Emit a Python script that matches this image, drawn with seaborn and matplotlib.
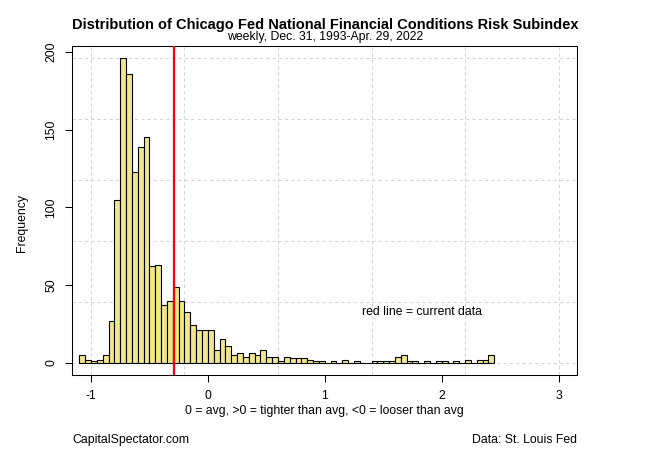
import numpy as np
import pandas as pd
import matplotlib
matplotlib.use("Agg")
import matplotlib.pyplot as plt
import seaborn as sns

# ------------------------------
# DATA
# ------------------------------

bin_start = -1.1
bin_width = 0.05
counts = [5, 2, 1, 2, 5, 27, 105, 196, 186, 123,
          139, 145, 62, 63, 37, 40, 49, 40, 33, 24,
          21, 21, 21, 8, 15, 11, 5, 6, 4, 6,
          5, 8, 4, 4, 1, 4, 3, 3, 3, 2,
          1, 1, 0, 1, 0, 2, 0, 1, 0, 0,
          1, 1, 1, 1, 4, 5, 1, 1, 0, 1,
          0, 1, 1, 0, 1, 0, 2, 0, 2, 2,
          5]
current_value = -0.29
x_ticks = [-1, 0, 1, 2, 3]
y_ticks = [0, 50, 100, 150, 200]

edges = np.round(bin_start + bin_width * np.arange(len(counts) + 1), 3)
centers = (edges[:-1] + edges[1:]) / 2
df = pd.DataFrame({"value": centers, "count": counts})

# ------------------------------
# STYLE
# ------------------------------

sns.set_style("white")
plt.rcParams["font.family"] = ["Liberation Sans", "DejaVu Sans"]
plt.rcParams["text.color"] = "black"
plt.rcParams["xtick.color"] = "black"
plt.rcParams["ytick.color"] = "black"
plt.rcParams["axes.labelcolor"] = "black"
fs = 8.8

fig = plt.figure(figsize=(6.5, 4.5), dpi=100)
ax = fig.add_axes([0.1112, 0.1667, 0.7769, 0.7311])

# dotted grid behind the bars
for gx in [-1.0, -0.2, 0.6, 1.4, 2.2, 3.0]:
    ax.axvline(gx, color="lightgray", lw=0.75, ls=(0, (3, 3)), zorder=0)
for gy in np.linspace(0, 196, 6):
    ax.axhline(gy, color="lightgray", lw=0.75, ls=(0, (3, 3)), zorder=0)

sns.histplot(data=df, x="value", weights="count", bins=edges.tolist(),
             color="#F0E68C", edgecolor="black", linewidth=0.8,
             alpha=1, ax=ax, zorder=2)

ax.axvline(current_value, color="red", lw=1.6, zorder=3)
ax.text(1.83, 33, "red line = current data", ha="center", va="center", fontsize=fs)

ax.set_xlim(-1.16, 3.16)
ax.set_ylim(-7.84, 203.84)
ax.set_xticks(x_ticks)
ax.set_yticks(y_ticks)
ax.set_xticklabels([str(t) for t in x_ticks], fontsize=fs)
ax.set_yticklabels([str(t) for t in y_ticks], fontsize=fs, rotation=90, va="center")
ax.tick_params(axis="both", direction="out", length=5, width=0.75,
               color="black", labelcolor="black", pad=6, bottom=True, left=True)
for s in ax.spines.values():
    s.set_visible(True)
    s.set_color("black")
    s.set_linewidth(0.75)

ax.set_xlabel("")
ax.set_ylabel("")
fig.text(21.7 / 650, 1 - 223 / 450, "Frequency", rotation=90,
         ha="center", va="center", fontsize=fs)
fig.text(324.8 / 650, 1 - 414 / 450,
         "0 = avg, >0 = tighter than avg, <0 = looser than avg",
         ha="center", va="baseline", fontsize=fs)

fig.text(324.8 / 650, 1 - 29.5 / 450,
         "Distribution of Chicago Fed National Financial Conditions Risk Subindex",
         ha="center", va="baseline", fontsize=10.5, fontweight="bold")
fig.text(324.8 / 650, 1 - 40 / 450, "weekly, Dec. 31, 1993-Apr. 29, 2022",
         ha="center", va="baseline", fontsize=fs)

fig.text(72.3 / 650, 1 - 443 / 450, "CapitalSpectator.com",
         ha="left", va="baseline", fontsize=fs)
fig.text(577.3 / 650, 1 - 443 / 450, "Data: St. Louis Fed",
         ha="right", va="baseline", fontsize=fs)

fig.savefig("out.png", dpi=100)
